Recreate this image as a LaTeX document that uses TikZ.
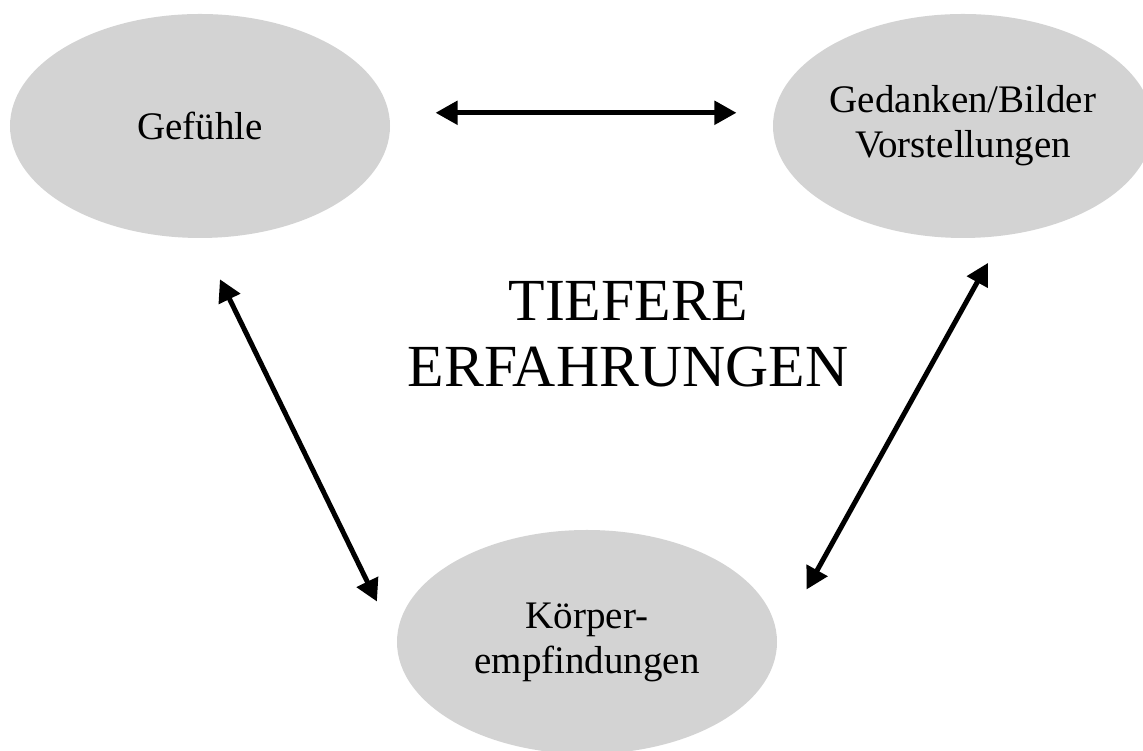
\documentclass[tikz,border=0pt]{standalone}
\usepackage{fontspec}
\setmainfont{Liberation Serif}
\usetikzlibrary{shapes.geometric,arrows.meta,positioning}
\definecolor{bubblegray}{RGB}{211,211,211}

\begin{document}
\begin{tikzpicture}[
    bubble/.style={ellipse,fill=bubblegray,inner sep=0pt,minimum width=7.6cm,minimum height=4.48cm,
        align=center,font=\fontsize{22.2}{25.6}\selectfont},
    link/.style={{Triangle[length=0.44cm,width=0.46cm]}-{Triangle[length=0.44cm,width=0.46cm]},line width=0.1cm}]
    \useasboundingbox (0,0) rectangle (22.86,15.02);
    \clip (0,0) rectangle (22.86,15.02);

    \node[bubble] (gef) at (4.0,12.5) {Gefühle};
    \node[bubble] (ged) at (19.26,12.5) {Gedanken/Bilder\\Vorstellungen};
    \node[bubble] (koe) at (11.74,2.18) {Körper-\\empfindungen};

    \node[align=center,font=\fontsize{34}{37.6}\selectfont] (deep) at (12.56,8.34) {TIEFERE\\ERFAHRUNGEN};

    \draw[link,shorten <=0.93cm,shorten >=0.75cm] (gef.4) -- (ged.176);
    \draw[link,shorten <=0.91cm,shorten >=0.9cm] (gef.south) -- (koe.west);
    \draw[link,shorten <=0.62cm,shorten >=1.2cm] (ged.-70) -- (koe.east);
\end{tikzpicture}
\end{document}
